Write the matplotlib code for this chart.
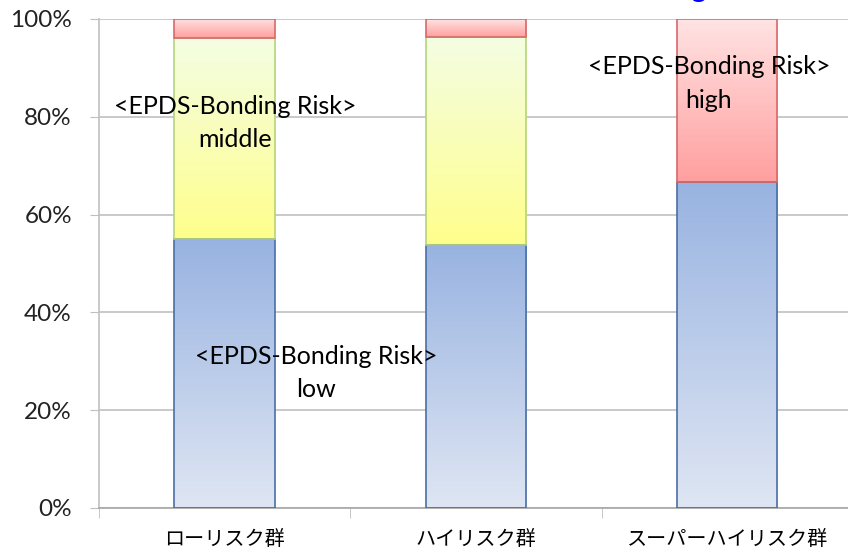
import matplotlib
matplotlib.use("Agg")
import matplotlib.pyplot as plt
import matplotlib.colors as mcolors
import numpy as np

plt.rcParams['font.family'] = ['Lato', 'Noto Sans CJK JP', 'DejaVu Sans']

groups = ["ローリスク群", "ハイリスク群", "スーパーハイリスク群"]
low = [55.0, 53.8, 66.7]
middle = [41.1, 42.6, 0.0]
high = [3.9, 3.6, 33.3]
yticks = [0, 20, 40, 60, 80, 100]

# (top colour, bottom colour, edge colour) for each risk level
styles = {
    "low": ("#98b3e1", "#dfe6f3", "#4a6fa5"),
    "middle": ("#f4fde3", "#ffff8c", "#b5d37a"),
    "high": ("#ffe3e3", "#ff9f9f", "#d9686a"),
}

fig = plt.figure(figsize=(8.48, 5.5), dpi=100)
ax = fig.add_axes([0.1167, 0.0764, 0.889, 0.8891])

x = np.arange(len(groups))
width = 0.4


def gradient_bars(bars, top, bottom, edge):
    cmap = mcolors.LinearSegmentedColormap.from_list("g", [bottom, top])
    grad = np.linspace(0, 1, 256).reshape(-1, 1)
    for b in bars:
        if b.get_height() <= 0:
            continue
        x0, y0 = b.get_x(), b.get_y()
        w, h = b.get_width(), b.get_height()
        im = ax.imshow(grad, cmap=cmap, origin="lower", aspect="auto",
                       extent=[x0, x0 + w, y0, y0 + h], zorder=2)
        im.set_clip_path(b)
        b.set_facecolor("none")
        b.set_edgecolor(edge)
        b.set_linewidth(1.2)
        b.set_zorder(3)


bottom = np.zeros(len(groups))
for name, vals in [("low", low), ("middle", middle), ("high", high)]:
    bars = ax.bar(x, vals, width, bottom=bottom)
    gradient_bars(bars, *styles[name])
    bottom = bottom + np.array(vals)

ax.set_xlim(-0.5, len(groups) - 0.5)
ax.set_ylim(0, 100)
ax.set_yticks(yticks)
ax.set_yticklabels([f"{v}%" for v in yticks], fontsize=17.5, color="#222222")
ax.set_xticks(x)
ax.set_xticklabels(groups, fontsize=14.5, family=['Noto Sans CJK JP', 'DejaVu Sans'])
ax.set_xticks([-0.5, 0.5, 1.5, 2.5], minor=True)
ax.tick_params(axis="x", which="major", length=0, pad=15)
ax.tick_params(axis="x", which="minor", length=7, color="#bfbfbf")
ax.tick_params(axis="y", length=6.5, color="#bfbfbf", pad=13)

ax.grid(axis="y", color="#c0c0c0", linewidth=1.2, zorder=0)
ax.set_axisbelow(True)
for side in ["top", "right"]:
    ax.spines[side].set_visible(False)
ax.spines["left"].set_color("#c0c0c0")
ax.spines["bottom"].set_color("#a6a6a6")
ax.spines["left"].set_linewidth(1.2)
ax.spines["bottom"].set_linewidth(1.2)

label_kw = dict(ha="center", va="center", fontsize=18, linespacing=1.55, zorder=5)
ax.text(0.041, 78.7, "<EPDS-Bonding Risk>\nmiddle", **label_kw)
ax.text(0.363, 27.6, "<EPDS-Bonding Risk>\nlow", **label_kw)
ax.text(1.927, 86.8, "<EPDS-Bonding Risk>\nhigh", **label_kw)

# blue heading sits above the plot area, only its lower edge is visible
fig.text(0.824, 1.006, "g", color="#0000ff", fontsize=22, ha="center", va="baseline")

fig.savefig("out.png", dpi=100)
